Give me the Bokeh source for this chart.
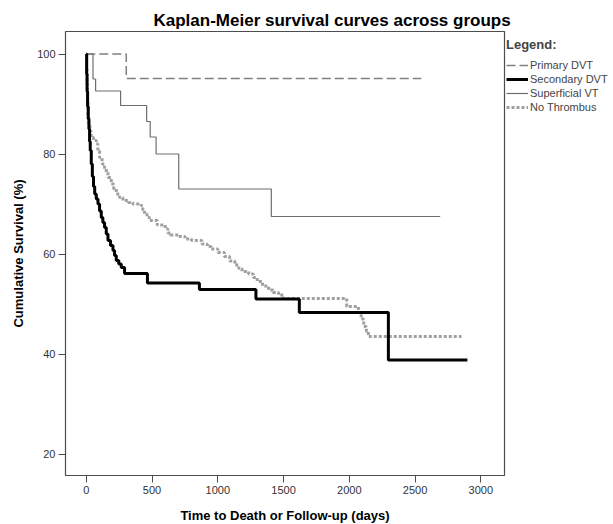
from bokeh.plotting import figure
from bokeh.models import Range1d, Legend, LegendItem, FixedTicker, Title
from bokeh.embed import file_html
from bokeh.resources import INLINE

# ---- data (days, cumulative survival %) ----
primary_t = [0, 304, 2547]
primary_s = [100, 95.1, 95.1]

secondary_t = [0, 3, 6, 10, 15, 20, 25, 30, 38, 46, 55, 64, 76, 89, 101, 114, 126, 139,
               152, 165, 184, 203, 215, 228, 247, 266, 291, 465, 860, 1290, 1620, 2297, 2898]
secondary_s = [100, 96, 92.5, 89.5, 87, 85, 82.5, 80.7, 78, 75.5, 73.5, 72, 71, 70, 68.6,
               67.3, 66.3, 65.3, 64, 62.7, 61.7, 60.7, 59.7, 58.7, 58, 57.3, 56.1, 54.2,
               52.9, 51.0, 48.3, 38.8, 38.8]

superficial_t = [0, 51, 71, 261, 459, 486, 531, 703, 1407, 2691]
superficial_s = [100, 95, 92.6, 89.7, 86.5, 83.4, 80, 73, 67.5, 67.5]

nothrombus_t = [0, 2, 5, 9, 13, 20, 28, 38, 55, 76, 88, 101, 120, 139, 165, 190, 209, 228,
                253, 278, 320, 354, 417, 430, 443, 462, 481, 540, 600, 620, 640, 700, 750,
                800, 880, 920, 950, 1000, 1050, 1090, 1130, 1160, 1184, 1235, 1270, 1300,
                1340, 1386, 1420, 1462, 1500, 1980, 2069, 2090, 2110, 2130, 2145, 2158, 2853]
nothrombus_s = [100, 97, 94, 90.5, 87.3, 86, 84.5, 83.3, 82.7, 82, 80.6, 79.3, 78, 76.7,
                75.3, 74, 73, 72, 71.3, 70.7, 70.3, 70, 69.7, 68.8, 68, 67.3, 66.7, 65.8,
                65, 64.2, 63.8, 63.5, 63, 62.7, 62, 61.5, 61, 60.3, 59.5, 58.6, 57.8, 57.1,
                56.5, 56, 55.3, 54.5, 53.6, 52.8, 52.3, 51.8, 51.1, 49.5, 48.3, 47, 45.5,
                44.5, 43.5, 43.5, 43.5]

x_ticks = [0, 500, 1000, 1500, 2000, 2500, 3000]
y_ticks = [20, 40, 60, 80, 100]

FONT = "Liberation Sans"

p = figure(frame_width=439, frame_height=444, output_backend="svg", toolbar_location=None,
           x_range=Range1d(-158, 3180), y_range=Range1d(15.7, 104.5),
           min_border_left=65, min_border_right=0, min_border_top=31, min_border_bottom=48)

p.title = Title(text="Kaplan-Meier survival curves across groups", align="left",
                offset=88, text_font=FONT, text_font_size="17px", text_font_style="bold",
                text_color="#000000", standoff=4)

r_nt = p.step(nothrombus_t, nothrombus_s, mode="after", line_color="#a0a0a0",
              line_width=3, line_dash="3 2")
r_pr = p.step(primary_t, primary_s, mode="after", line_color="#808080",
              line_width=1.5, line_dash="9 4")
r_su = p.step(superficial_t, superficial_s, mode="after", line_color="#6e6e6e",
              line_width=1.2)
r_se = p.step(secondary_t, secondary_s, mode="after", line_color="#000000",
              line_width=3)

legend = Legend(items=[
    LegendItem(label="Primary DVT", renderers=[r_pr]),
    LegendItem(label="Secondary DVT", renderers=[r_se]),
    LegendItem(label="Superficial VT", renderers=[r_su]),
    LegendItem(label="No Thrombus", renderers=[r_nt]),
], location=(2, 361), title="Legend:", title_text_font=FONT,
   title_text_font_size="13px", title_text_font_style="bold", title_standoff=6,
   label_text_font=FONT, label_text_font_size="11px", glyph_width=22, glyph_height=14,
   label_height=14, label_standoff=2, spacing=0, padding=3, margin=0,
   border_line_color=None, background_fill_alpha=0)
p.add_layout(legend, "right")

p.xgrid.grid_line_color = None
p.ygrid.grid_line_color = None
p.outline_line_color = "#4d4d4d"
p.outline_line_width = 1.2

for ax in (p.xaxis[0], p.yaxis[0]):
    ax.axis_line_color = None
    ax.major_tick_line_color = "#4d4d4d"
    ax.major_tick_out = 7
    ax.major_tick_in = 0
    ax.minor_tick_line_color = None
    ax.major_label_text_font = FONT
    ax.major_label_text_font_size = "11px"
    ax.major_label_text_color = "#333333"
    ax.axis_label_text_font = FONT
    ax.axis_label_text_font_size = "13px"
    ax.axis_label_text_font_style = "bold"
    ax.axis_label_text_color = "#000000"

p.xaxis[0].ticker = FixedTicker(ticks=x_ticks)
p.yaxis[0].ticker = FixedTicker(ticks=y_ticks)
p.xaxis[0].axis_label = "Time to Death or Follow-up (days)"
p.yaxis[0].axis_label = "Cumulative Survival (%)"
p.xaxis[0].major_label_standoff = 3
p.xaxis[0].axis_label_standoff = 11
p.yaxis[0].major_label_standoff = 3
p.yaxis[0].axis_label_standoff = 8

open("out.html", "w").write(file_html(p, INLINE))
